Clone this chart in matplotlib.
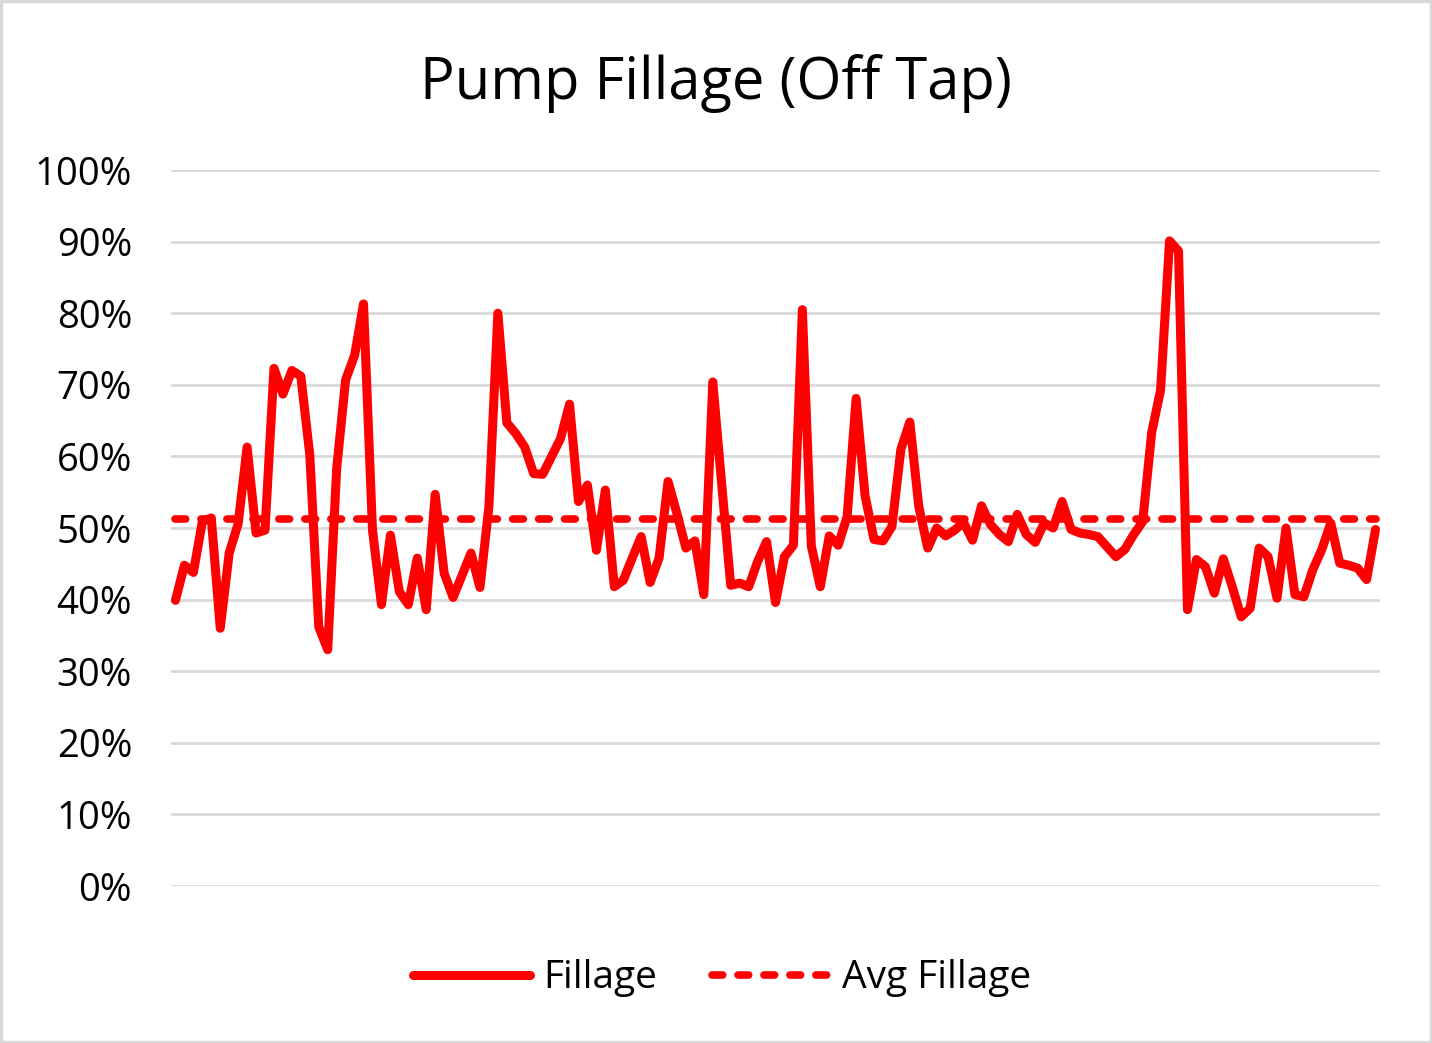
import matplotlib
matplotlib.use("Agg")
import matplotlib.pyplot as plt
from matplotlib.ticker import PercentFormatter
from matplotlib.lines import Line2D
import numpy as np

# Fillage values (%), one per sample
fillage = [
    39.9, 44.8, 43.8, 50.9, 51.4, 36.0, 46.5, 50.6, 61.3, 49.3,
    49.7, 72.3, 68.7, 72.0, 71.2, 60.2, 36.2, 33.0, 58.3, 70.7,
    74.1, 81.3, 49.7, 39.3, 49.0, 41.1, 39.3, 45.8, 38.6, 54.7,
    43.7, 40.3, 43.4, 46.5, 41.7, 53.0, 80.0, 64.7, 63.2, 61.3,
    57.6, 57.5, 60.0, 62.5, 67.3, 53.7, 56.0, 46.9, 55.3, 41.8,
    42.7, 45.8, 48.8, 42.4, 45.8, 56.5, 52.0, 47.2, 48.2, 40.7,
    70.4, 56.0, 42.0, 42.3, 41.8, 45.3, 48.1, 39.6, 46.0, 47.6,
    80.5, 47.5, 41.8, 48.9, 47.6, 51.6, 68.1, 54.5, 48.4, 48.2,
    50.2, 61.0, 64.8, 53.0, 47.2, 50.0, 48.9, 49.7, 50.8, 48.3,
    53.1, 50.5, 49.1, 48.1, 51.9, 49.1, 48.0, 50.7, 50.0, 53.7,
    49.8, 49.3, 49.1, 48.8, 47.4, 46.0, 47.0, 49.1, 50.9, 63.3,
    69.3, 90.1, 88.7, 38.6, 45.6, 44.6, 40.9, 45.7, 41.8, 37.6,
    38.8, 47.2, 46.0, 40.2, 50.0, 40.7, 40.4, 44.2, 47.0, 50.7,
    45.1, 44.8, 44.4, 42.8, 49.8,
]
avg_fillage = 51.2
y_ticks = [0, 10, 20, 30, 40, 50, 60, 70, 80, 90, 100]
title = "Pump Fillage (Off Tap)"
series_names = ["Fillage", "Avg Fillage"]

plt.rcParams['font.family'] = ['Open Sans', 'DejaVu Sans']

RED = "#ff0000"
GRID = "#d9d9d9"

fig = plt.figure(figsize=(14.32, 10.43), dpi=100)
ax = fig.add_axes([0.1194, 0.1505, 0.8443, 0.6865])

x = np.arange(len(fillage))
ax.plot(x, fillage, color=RED, lw=6.5, solid_joinstyle="round",
        solid_capstyle="round", zorder=3)
ax.plot(x, [avg_fillage] * len(fillage), color=RED, lw=5.5,
        dashes=(1.4, 2.0), dash_capstyle="round", zorder=3)

ax.set_xlim(-0.5, len(fillage) - 0.5)
ax.set_ylim(0, 100)
ax.set_yticks(y_ticks)
ax.yaxis.set_major_formatter(PercentFormatter(decimals=0))
ax.set_xticks([])
ax.grid(axis="y", color=GRID, lw=2.0, zorder=0)
ax.set_axisbelow(True)
for s in ax.spines.values():
    s.set_visible(False)
ax.tick_params(axis="y", length=0, pad=28, labelsize=27.5, labelcolor="black")

fig.text(0.5, 0.905, title, ha="center", va="baseline", fontsize=41.7, color="black")

handles = [
    Line2D([], [], color=RED, lw=6.5, solid_capstyle="round"),
    Line2D([], [], color=RED, lw=5.5, dashes=(1.4, 2.0), dash_capstyle="round"),
]
fig.legend(handles, series_names, loc="center", bbox_to_anchor=(0.5045, 0.062),
           ncol=2, frameon=False, fontsize=28, handlelength=3.0,
           handletextpad=0.35, columnspacing=1.4)

# chart area border
fig.patches.append(plt.Rectangle((0.001, 0.001), 0.998, 0.998, transform=fig.transFigure,
                                 fill=False, edgecolor=GRID, lw=2.5))

fig.savefig("out.png", dpi=100, facecolor="white")
